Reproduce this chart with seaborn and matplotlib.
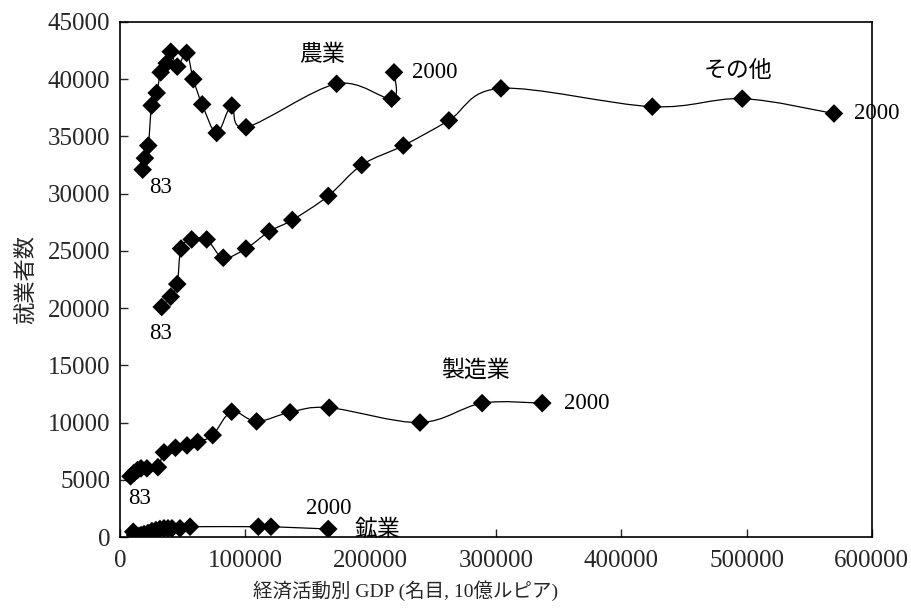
import numpy as np
import pandas as pd
import matplotlib
matplotlib.use("Agg")
import matplotlib.pyplot as plt
from matplotlib.path import Path
from matplotlib.patches import PathPatch
import seaborn as sns

# 1983-2000, 経済活動別 GDP (名目, 10億ルピア) と 就業者数
agri_gdp = [18100, 19900, 22600, 25300, 29300, 32500, 37300, 40500, 45700,
            53200, 58500, 65600, 77200, 89200, 100600, 172900, 216800, 218700]
agri_emp = [32100, 33100, 34200, 37700, 38800, 40600, 41400, 42400, 41100,
            42300, 40000, 37800, 35300, 37700, 35800, 39600, 38300, 40600]

other_gdp = [33300, 40500, 45700, 48700, 57200, 69200, 82400, 100500, 119100,
             137500, 166200, 192900, 226100, 262500, 304000, 424800, 496600, 569800]
other_emp = [20100, 21000, 22100, 25200, 26000, 26000, 24400, 25200, 26700,
             27700, 29800, 32500, 34200, 36400, 39200, 37600, 38300, 37000]

mfg_gdp = [8400, 11200, 14000, 16800, 21500, 30300, 35100, 44300, 53500,
           62000, 74000, 89100, 109000, 135700, 167000, 239400, 289000, 337000]
mfg_emp = [5300, 5600, 5850, 6000, 6000, 6100, 7400, 7800, 8000,
           8300, 8900, 10950, 10100, 10900, 11300, 10000, 11700, 11700]

mine_gdp = [10600, 12000, 13600, 15200, 16800, 19200, 22300, 25500, 28700,
            31900, 35100, 38300, 41500, 47900, 55900, 110400, 120500, 166200]
mine_emp = [460, 170, 40, 90, 170, 260, 350, 520, 610,
            700, 760, 760, 760, 760, 900, 900, 900, 700]

sectors = ["農業", "その他", "製造業", "鉱業"]
x_ticks = [0, 100000, 200000, 300000, 400000, 500000, 600000]
y_ticks = list(range(0, 45001, 5000))

df = pd.concat([
    pd.DataFrame({"gdp": agri_gdp, "emp": agri_emp, "sector": sectors[0]}),
    pd.DataFrame({"gdp": other_gdp, "emp": other_emp, "sector": sectors[1]}),
    pd.DataFrame({"gdp": mfg_gdp, "emp": mfg_emp, "sector": sectors[2]}),
    pd.DataFrame({"gdp": mine_gdp, "emp": mine_emp, "sector": sectors[3]}),
])

sns.set_style("ticks")
fonts = ["Liberation Serif", "Noto Sans CJK JP", "DejaVu Sans"]
plt.rcParams["font.family"] = fonts


def smooth_path(xs, ys):
    # Catmull-Rom 風のなめらかな線 (Bezier)
    p = np.column_stack([xs, ys]).astype(float)
    n = len(p)
    verts = [p[0]]
    codes = [Path.MOVETO]
    for i in range(n - 1):
        p0 = p[i - 1] if i > 0 else p[i]
        p3 = p[i + 2] if i + 2 < n else p[i + 1]
        c1 = p[i] + (p[i + 1] - p0) / 6
        c2 = p[i + 1] - (p3 - p[i]) / 6
        verts += [c1, c2, p[i + 1]]
        codes += [Path.CURVE4] * 3
    return Path(verts, codes)


fig = plt.figure(figsize=(9.11, 6.09), dpi=100)
ax = fig.add_axes([0.1317, 0.1182, 0.8253, 0.8457])

for name, g in df.groupby("sector", sort=False):
    ax.add_patch(PathPatch(smooth_path(g["gdp"], g["emp"]), fill=False,
                           edgecolor="black", lw=0.9, zorder=2))

sns.scatterplot(data=df, x="gdp", y="emp", marker="D", color="black",
                s=90, edgecolor="none", legend=False, ax=ax, zorder=3)

ax.set_xlim(0, 600000)
ax.set_ylim(0, 45000)
ax.set_xticks(x_ticks)
ax.set_yticks(y_ticks)
ax.tick_params(direction="in", length=6, width=1, labelsize=18)
ax.tick_params(axis="x", pad=9)
ax.tick_params(axis="y", pad=7)
for spine in ax.spines.values():
    spine.set_visible(True)
    spine.set_linewidth(1.2)
    spine.set_color("black")

ax.set_xlabel("経済活動別 GDP (名目, 10億ルピア)", fontsize=14, labelpad=8)
ax.xaxis.set_label_coords(0.38, -0.085)
ax.set_ylabel("就業者数", fontsize=16, labelpad=8)

# 系列名と年の注記
tk = dict(fontsize=16.5, color="black", clip_on=False)
ax.text(161000, 42100, sectors[0], ha="center", va="center", **tk)
ax.text(233000, 40600, "2000", ha="left", va="center", **tk)
ax.text(32000, 30500, "83", ha="center", va="center", **tk)

ax.text(493000, 40700, sectors[1], ha="center", va="center", **tk)
ax.text(586000, 37000, "2000", ha="left", va="center", **tk)
ax.text(32000, 17800, "83", ha="center", va="center", **tk)

ax.text(284000, 14500, sectors[2], ha="center", va="center", **tk)
ax.text(354000, 11700, "2000", ha="left", va="center", **tk)
ax.text(16000, 3400, "83", ha="center", va="center", **tk)

ax.text(167000, 2500, "2000", ha="center", va="center", **tk)
ax.text(187000, 600, sectors[3], ha="left", va="center", **tk)

fig.savefig("out.png", dpi=100)
